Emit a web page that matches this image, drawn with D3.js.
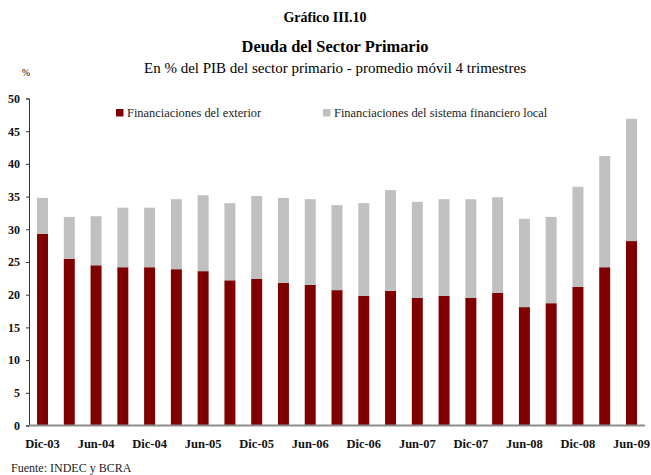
<!DOCTYPE html>
<html>
<head>
<meta charset="utf-8">
<script src="https://cdn.jsdelivr.net/npm/d3@7"></script>
<style>
  body { margin: 0; background: #fff; }
  text { font-family: "Liberation Serif", "DejaVu Serif", serif; }
</style>
</head>
<body>
<div class="container"></div>
<script>
// quarters, Dic-03 .. Jun-09
var periods = ["Dic-03","Mar-04","Jun-04","Sep-04","Dic-04","Mar-05","Jun-05","Sep-05","Dic-05","Mar-06","Jun-06","Sep-06",
  "Dic-06","Mar-07","Jun-07","Sep-07","Dic-07","Mar-08","Jun-08","Sep-08","Dic-08","Mar-09","Jun-09"];
var exterior = [29.3,25.5,24.5,24.2,24.2,23.9,23.6,22.2,22.4,21.8,21.5,20.7,19.8,20.6,19.5,19.8,19.5,20.3,18.1,18.7,21.2,24.2,28.2];
var local = [5.5,6.4,7.5,9.1,9.1,10.7,11.6,11.8,12.7,13.0,13.1,13.0,14.2,15.4,14.7,14.8,15.1,14.6,13.5,13.2,15.3,17.0,18.7];
var yTicks = [0,5,10,15,20,25,30,35,40,45,50];
var seriesNames = ["Financiaciones del exterior", "Financiaciones del sistema financiero local"];
var colors = ["#800000", "#c0c0c0"];

var width = 651, height = 475;
var margin = {left: 29, right: 6, top: 98.5, bottom: 49.5};

var svg = d3.select(".container").append("svg")
  .attr("width", width)
  .attr("height", height);

var x = d3.scaleBand()
  .domain(periods)
  .range([margin.left, width - margin.right])
  .paddingInner(0.59)
  .paddingOuter(0.3);

var y = d3.scaleLinear()
  .domain([0, 50])
  .range([height - margin.bottom, margin.top]);

var rows = periods.map(function (p, i) {
  return {period: p, exterior: exterior[i], local: local[i]};
});
var stacked = d3.stack().keys(["exterior", "local"])(rows);

// bars
svg.append("g")
  .selectAll("g")
  .data(stacked)
  .join("g")
  .attr("fill", function (d, i) { return colors[i]; })
  .selectAll("rect")
  .data(function (d) { return d; })
  .join("rect")
  .attr("x", function (d) { return x(d.data.period); })
  .attr("width", x.bandwidth())
  .attr("y", function (d) { return y(d[1]); })
  .attr("height", function (d) { return y(d[0]) - y(d[1]); });

// y axis
var yAxis = svg.append("g")
  .attr("transform", "translate(" + margin.left + ",0)")
  .call(d3.axisLeft(y).tickValues(yTicks).tickSize(3).tickPadding(6));
yAxis.select(".domain").attr("stroke", "#333");
yAxis.selectAll(".tick line").attr("stroke", "#333");
yAxis.selectAll("text")
  .attr("font-family", "Liberation Serif")
  .attr("font-size", 12)
  .attr("font-weight", "bold")
  .attr("fill", "#111");

// x axis
var xAxis = svg.append("g")
  .attr("transform", "translate(0," + y(0) + ")")
  .call(d3.axisBottom(x)
    .tickValues(periods.filter(function (d, i) { return i % 2 === 0; }))
    .tickSize(0).tickPadding(14));
xAxis.select(".domain")
  .attr("stroke", "#8c8c8c")
  .attr("stroke-width", 2)
  .attr("d", "M" + margin.left + ",0H" + (width - margin.right));
xAxis.selectAll("text")
  .attr("font-family", "Liberation Serif")
  .attr("font-size", 12.5)
  .attr("font-weight", "bold")
  .attr("fill", "#111");

// legend
var legend = svg.append("g");
var legendX = [116, 323];
seriesNames.forEach(function (name, i) {
  legend.append("rect")
    .attr("x", legendX[i]).attr("y", 109)
    .attr("width", 7.5).attr("height", 7.5)
    .attr("fill", colors[i]);
  legend.append("text")
    .attr("x", legendX[i] + 11).attr("y", 117)
    .attr("font-size", 12.4)
    .attr("fill", "#222")
    .text(name);
});

// titles
svg.append("text")
  .attr("x", 325).attr("y", 22)
  .attr("text-anchor", "middle")
  .attr("font-size", 14).attr("font-weight", "bold")
  .text("Gráfico III.10");
svg.append("text")
  .attr("x", 335).attr("y", 52)
  .attr("text-anchor", "middle")
  .attr("font-size", 16.4).attr("font-weight", "bold")
  .text("Deuda del Sector Primario");
svg.append("text")
  .attr("x", 335).attr("y", 73)
  .attr("text-anchor", "middle")
  .attr("font-size", 15)
  .text("En % del PIB del sector primario - promedio móvil 4 trimestres");
svg.append("text")
  .attr("x", 22).attr("y", 76)
  .attr("font-size", 9.5)
  .text("%");
svg.append("text")
  .attr("x", 11).attr("y", 472)
  .attr("font-size", 12)
  .attr("fill", "#222")
  .text("Fuente: INDEC y BCRA");
</script>
</body>
</html>
